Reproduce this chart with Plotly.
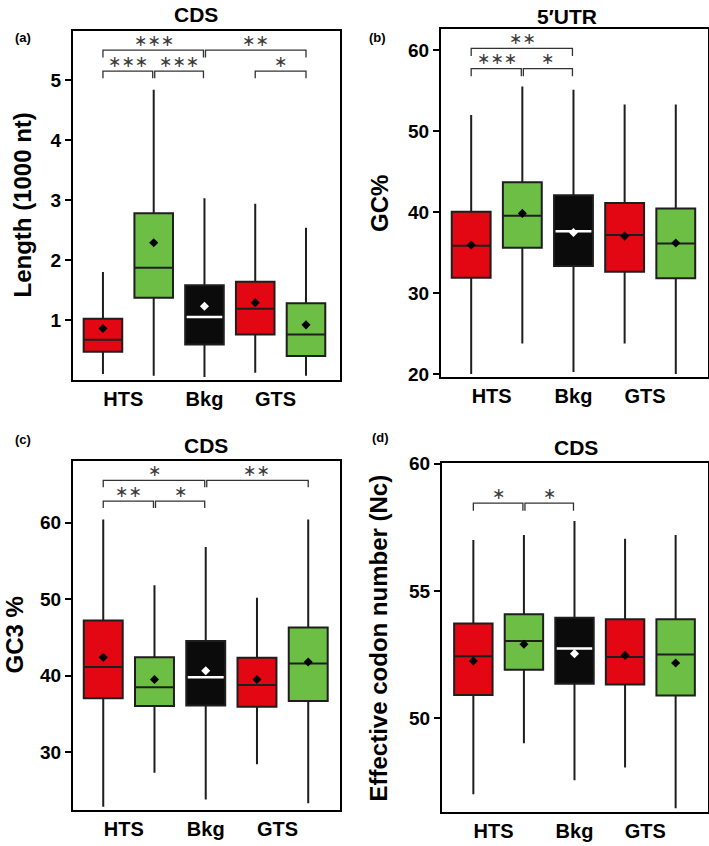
import plotly.graph_objects as go

# five boxes per panel: HTS (two sets), background, GTS (two sets)
positions = [1, 2, 3, 4, 5]
box_colors = ["#e30613", "#6cbe45", "#0b0b0b", "#e30613", "#6cbe45"]
mean_colors = ["black", "black", "white", "black", "black"]
tick_pos = [1.4, 3, 4.4]
tick_text = ["HTS", "Bkg", "GTS"]

# (a) CDS length, 1000 nt
a_upper = [1.80, 4.84, 3.03, 2.94, 2.54]
a_q3 = [1.02, 2.78, 1.58, 1.64, 1.28]
a_median = [0.67, 1.87, 1.05, 1.19, 0.76]
a_q1 = [0.47, 1.37, 0.59, 0.76, 0.40]
a_lower = [0.10, 0.07, 0.05, 0.12, 0.07]
a_mean = [0.86, 2.29, 1.23, 1.29, 0.92]
a_brackets = [(1, 2, 5.15, "***"), (2, 3, 5.15, "***"), (4, 5, 5.15, "*"),
              (1, 3, 5.50, "***"), (3, 5, 5.50, "**")]

# (b) 5'UTR GC%
b_upper = [52.0, 55.5, 55.1, 53.3, 53.3]
b_q3 = [40.05, 43.7, 42.1, 41.15, 40.45]
b_median = [35.85, 39.55, 37.65, 37.2, 36.15]
b_q1 = [31.9, 35.6, 33.35, 32.65, 31.85]
b_lower = [20.05, 23.8, 20.3, 23.8, 20.05]
b_mean = [35.95, 39.85, 37.5, 37.05, 36.2]
b_brackets = [(1, 2, 57.7, "***"), (2, 3, 57.7, "*"), (1, 3, 60.2, "**")]

# (c) CDS GC3 %
c_upper = [60.4, 51.8, 56.8, 50.2, 60.4]
c_q3 = [47.2, 42.4, 44.55, 42.35, 46.3]
c_median = [41.15, 38.5, 39.8, 38.8, 41.6]
c_q1 = [37.05, 36.05, 36.1, 35.95, 36.7]
c_lower = [22.9, 27.35, 23.85, 28.45, 23.35]
c_mean = [42.4, 39.5, 40.65, 39.5, 41.8]
c_brackets = [(1, 2, 62.8, "**"), (2, 3, 62.8, "*"),
              (1, 3, 65.5, "*"), (3, 5, 65.5, "**")]

# (d) CDS effective codon number
d_upper = [57.0, 57.2, 57.75, 57.05, 57.2]
d_q3 = [53.72, 54.08, 53.94, 53.88, 53.88]
d_median = [52.43, 53.03, 52.73, 52.4, 52.5]
d_q1 = [50.9, 51.9, 51.35, 51.32, 50.88]
d_lower = [47.0, 49.0, 47.55, 48.05, 46.45]
d_mean = [52.24, 52.9, 52.53, 52.46, 52.16]
d_brackets = [(1, 2, 58.45, "*"), (2, 3, 58.45, "*")]

W, H = 709, 846
FONT = "Liberation Sans, Arial, sans-serif"

panels = [
    dict(letter="(a)", title="CDS", ylabel="Length (1000 nt)",
         stats=(a_lower, a_q1, a_median, a_q3, a_upper, a_mean), brackets=a_brackets,
         yrange=[0, 5.82], yticks=[1, 2, 3, 4, 5], xrange=[0.41, 5.67],
         box=(73, 31, 340, 380), drop=0.12,
         letter_xy=(23, 38), title_xy=(196, 15), ylabel_x=22),
    dict(letter="(b)", title="5\u2032UTR", ylabel="GC%",
         stats=(b_lower, b_q1, b_median, b_q3, b_upper, b_mean), brackets=b_brackets,
         yrange=[19.67, 62.6], yticks=[20, 30, 40, 50, 60], xrange=[0.41, 5.63],
         box=(441, 29, 708, 377), drop=0.93,
         letter_xy=(378, 37), title_xy=(567, 16), ylabel_x=379),
    dict(letter="(c)", title="CDS", ylabel="GC3 %",
         stats=(c_lower, c_q1, c_median, c_q3, c_upper, c_mean), brackets=c_brackets,
         yrange=[22.47, 68.04], yticks=[30, 40, 50, 60], xrange=[0.41, 5.62],
         box=(73, 461, 340, 810), drop=0.9,
         letter_xy=(23, 439), title_xy=(206, 445), ylabel_x=14),
    dict(letter="(d)", title="CDS", ylabel="Effective codon number (Nc)",
         stats=(d_lower, d_q1, d_median, d_q3, d_upper, d_mean), brackets=d_brackets,
         yrange=[46.3, 60.03], yticks=[50, 55, 60], xrange=[0.38, 5.64],
         box=(442, 463, 708, 812), drop=0.3,
         letter_xy=(380, 437), title_xy=(576, 447), ylabel_x=378),
]

fig = go.Figure()
annotations = []
layout_axes = {}


def paper_text(x, y, text, size, angle=0):
    return dict(x=x / W, y=1 - y / H, xref="paper", yref="paper",
                xanchor="center", yanchor="middle", text=text,
                textangle=angle, showarrow=False,
                font=dict(family=FONT, size=size, color="black", weight="bold"))


for i, p in enumerate(panels):
    n = "" if i == 0 else str(i + 1)
    xref, yref = "x" + n, "y" + n
    lower, q1, med, q3, upper, mean = p["stats"]

    for k, pos in enumerate(positions):
        fig.add_trace(go.Box(
            x=[pos], lowerfence=[lower[k]], q1=[q1[k]], median=[med[k]],
            q3=[q3[k]], upperfence=[upper[k]],
            width=0.76, whiskerwidth=0, fillcolor=box_colors[k],
            line=dict(color="#1e1e1e", width=2),
            xaxis=xref, yaxis=yref, showlegend=False, hoverinfo="skip"))
        if mean_colors[k] == "white":
            # white median on the dark background box
            fig.add_trace(go.Scatter(
                x=[pos - 0.35, pos + 0.35], y=[med[k], med[k]], mode="lines",
                line=dict(color="white", width=2.5),
                xaxis=xref, yaxis=yref, showlegend=False, hoverinfo="skip"))

    fig.add_trace(go.Scatter(
        x=positions, y=mean, mode="markers",
        marker=dict(symbol="diamond", size=7, color=mean_colors),
        xaxis=xref, yaxis=yref, showlegend=False, hoverinfo="skip"))

    # significance brackets
    for (s, e, lvl, star) in p["brackets"]:
        x0 = s + (0.02 if s in (2, 3) else 0)
        x1 = e - (0.02 if e in (2, 3) else 0)
        fig.add_trace(go.Scatter(
            x=[x0, x0, x1, x1], y=[lvl - p["drop"], lvl, lvl, lvl - p["drop"]],
            mode="lines", line=dict(color="#333333", width=1.3),
            xaxis=xref, yaxis=yref, showlegend=False, hoverinfo="skip"))
        annotations.append(dict(
            x=(s + e) / 2, y=lvl, xref=xref, yref=yref, yshift=10,
            text=star.replace("*", "\u2217"), showarrow=False,
            xanchor="center", yanchor="middle",
            font=dict(family="DejaVu Sans", size=16, color="#3a3a3a")))

    left, top, right, bottom = p["box"]
    layout_axes["xaxis" + n] = dict(
        domain=[left / W, right / W], range=p["xrange"], anchor=yref,
        tickvals=tick_pos, ticktext=tick_text, ticks="",
        showline=True, mirror=True, linecolor="black", linewidth=2,
        showgrid=False, zeroline=False, automargin=False,
        tickfont=dict(family=FONT, size=20, color="black", weight="bold"))
    layout_axes["yaxis" + n] = dict(
        domain=[1 - bottom / H, 1 - top / H], range=p["yrange"], anchor=xref,
        tickvals=p["yticks"], ticks="outside", ticklen=6, tickwidth=1.5,
        tickcolor="black", showline=True, mirror=True, linecolor="black",
        linewidth=2, showgrid=False, zeroline=False, automargin=False,
        tickfont=dict(family=FONT, size=19, color="black", weight="bold"))

    annotations.append(paper_text(*p["letter_xy"], p["letter"], 13))
    annotations.append(paper_text(*p["title_xy"], p["title"], 21))
    annotations.append(paper_text(p["ylabel_x"], (top + bottom) / 2, p["ylabel"], 24, -90))

fig.update_layout(
    width=W, height=H,
    margin=dict(l=0, r=0, t=0, b=0),
    paper_bgcolor="white", plot_bgcolor="white",
    boxmode="overlay",
    annotations=annotations,
    **layout_axes,
)

fig.write_html("out.html", config={"displayModeBar": False},
               post_script="document.body.style.margin='0';")
